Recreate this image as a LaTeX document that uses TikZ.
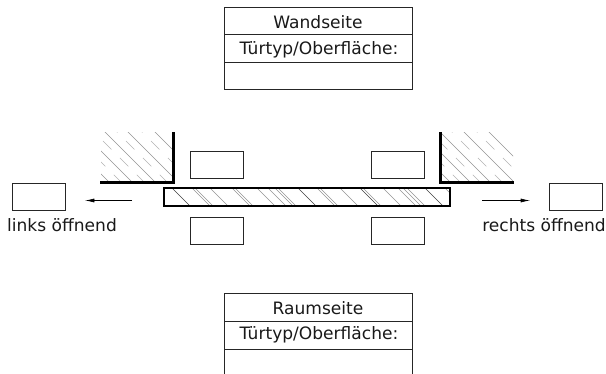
\documentclass[tikz,border=0pt]{standalone}
\usepackage{fontspec}
\setmainfont{DejaVu Sans}
\usetikzlibrary{arrows.meta}
\tikzset{
  px/.style={x=0.75pt,y=-0.75pt},
  cell/.style={draw=black!85,line width=0.75pt,inner sep=0pt,outer sep=0pt,minimum width=141pt,minimum height=20.4pt,anchor=north west},
  label/.style={font=\fontsize{12.8pt}{14pt}\selectfont,text=black!90,inner sep=0pt},
  smallbox/.style={draw=black!85,line width=0.75pt,inner sep=0pt,outer sep=0pt,minimum width=40pt,minimum height=20.2pt,anchor=north west},
  wall/.style={line width=1.6pt,line cap=rect,line join=miter,black},
  hatch/.style={line width=0.3pt,black!42},
  hatchdash/.style={line width=0.3pt,black!30,dash pattern=on 9pt off 9pt},
  dirarrow/.style={line width=0.5pt,black,-{Latex[length=7pt,width=3pt]}},
}
\begin{document}
\begin{tikzpicture}[px]
\useasboundingbox (0,0) rectangle (606,374);
% upper table
\node[cell] (w1) at (224,7.7) {};
\node[cell] (w2) at (224,34.9) {};
\node[cell] (w3) at (224,62.1) {};
\node[label] (wt) at (318,22.5) {Wandseite};
\node[label] (wo) at (319,49.5) {Türtyp/Oberfläche:};
% lower table
\node[cell,minimum height=21pt] (r1) at (224,293) {};
\node[cell,minimum height=21pt] (r2) at (224,321) {};
\node[label] (rt) at (318,308) {Raumseite};
\node[label] (ro) at (319,335) {Türtyp/Oberfläche:};
\draw[draw=black!85,line width=0.75pt] (r2.south west) -- (r2.south west |- 0,374) (r2.south east) -- (r2.south east |- 0,374);
% left wall hatching
\begin{scope}
\clip (101,133) rectangle (172,181);
\foreach \c in {-73,-50,-27,-4,23}
  \draw[hatch] (90+\c+60,150) ++(-60,-60) -- ++(120,120);
\foreach \c in {-61,-38,-15,10}
  \draw[hatchdash] (90+\c+60,150) ++(-60,-60) -- ++(120,120);
\end{scope}
% right wall hatching
\begin{scope}
\clip (442,133) rectangle (513,181);
\foreach \c in {268,288,308,332,357}
  \draw[hatch] (\c+150,150) ++(-60,-60) -- ++(120,120);
\foreach \c in {278,298,320,345}
  \draw[hatchdash] (\c+150,150) ++(-60,-60) -- ++(120,120);
\end{scope}
% walls
\draw[wall] (173.5,133) -- (173.5,182.5) -- (101,182.5);
\draw[wall] (440.5,133) -- (440.5,182.5) -- (513,182.5);
% door leaf hatching
\begin{scope}
\clip (164,188) rectangle (450,206);
\foreach \t in {172,298,360,425}
  \draw[line width=0.45pt,black!75] (\t,188) -- ++(18,18);
\foreach \t in {192,195,210,232,235,257,268,275,278,317,320,340,363,383,398,403,407,445,146}
  \draw[hatch] (\t,188) -- ++(18,18);
\end{scope}
\node[draw=black,line width=1.2pt,inner sep=0pt,outer sep=0pt,minimum width=214.5pt,minimum height=13.5pt,anchor=north west] (door) at (164,188) {};
% small boxes
\node[smallbox] (bl1) at (190,151.5) {};
\node[smallbox] (bl2) at (190,217.5) {};
\node[smallbox] (br1) at (371,151.5) {};
\node[smallbox] (br2) at (371,217.5) {};
\node[smallbox] (fl) at (12,183.5) {};
\node[smallbox] (fr) at (549,183.5) {};
% direction arrows
\coordinate (al) at (132,200.5);
\coordinate (ar) at (482,200.5);
\coordinate (alend) at (85,200.5);
\coordinate (arend) at (530,200.5);
\draw[dirarrow] (al) -- (alend);
\draw[dirarrow] (ar) -- (arend);
% captions
\node[label] (lo) at (62,225.5) {links öffnend};
\node[label] (ro2) at (544,225.5) {rechts öffnend};
\end{tikzpicture}
\end{document}
